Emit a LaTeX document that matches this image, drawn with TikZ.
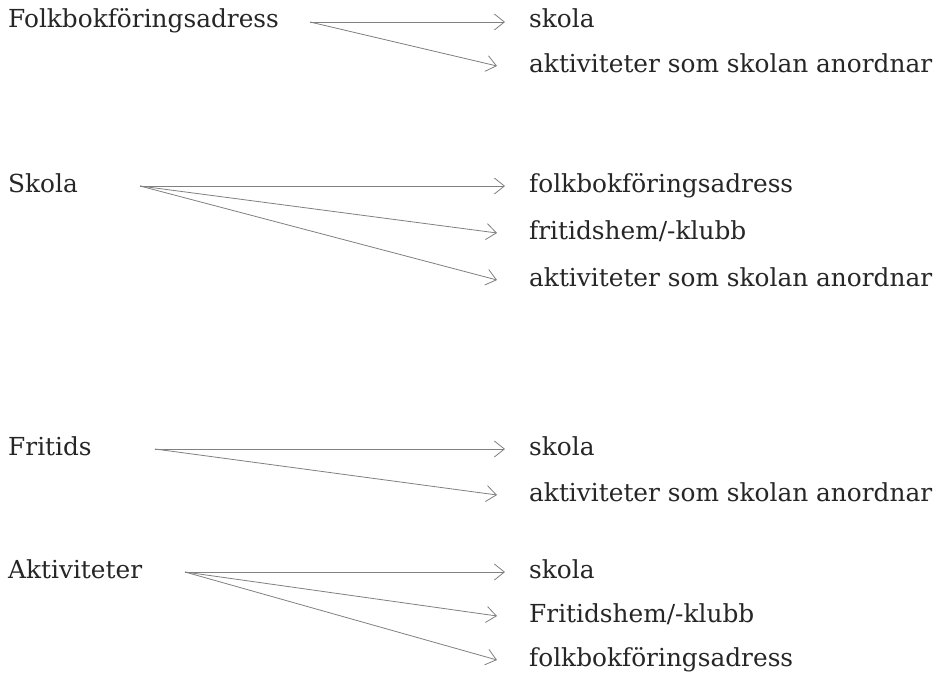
\documentclass[tikz,border=0pt]{standalone}
\usepackage{fontspec}
\setmainfont{DejaVu Serif}
\usetikzlibrary{arrows.meta}
\begin{document}
\begin{tikzpicture}[x=1pt,y=-1pt,
  lbl/.style={anchor=mid west,inner sep=0pt,font=\fontsize{24.8}{28}\selectfont,text=black!85},
  conn/.style={draw=black!50,line width=0.8pt,-{Straight Barb[length=10pt,width=16pt,line width=0.8pt]}}]
\useasboundingbox[fill=white] (0,0) rectangle (937,677);
% row 1
\node[lbl] (f) at (8,25) {Folkbokföringsadress};
\coordinate (fs) at (310,22);
\node[lbl] (f1) at (529,25) {skola};
\node[lbl] (f2) at (529,70) {aktiviteter som skolan anordnar};
\coordinate (f1t) at (505,22);
\coordinate (f2t) at (497,66);
\draw[conn] (fs) -- (f1t);
\draw[conn] (fs) -- (f2t);
% row 2
\node[lbl] (s) at (8,190) {Skola};
\coordinate (ss) at (140,186);
\node[lbl] (s1) at (529,190) {folkbokföringsadress};
\node[lbl] (s2) at (529,237) {fritidshem/-klubb};
\node[lbl] (s3) at (529,284) {aktiviteter som skolan anordnar};
\coordinate (s1t) at (505,186);
\coordinate (s2t) at (497,233);
\coordinate (s3t) at (497,280);
\draw[conn] (ss) -- (s1t);
\draw[conn] (ss) -- (s2t);
\draw[conn] (ss) -- (s3t);
% row 3
\node[lbl] (r) at (8,453) {Fritids};
\coordinate (rs) at (155,449);
\node[lbl] (r1) at (529,453) {skola};
\node[lbl] (r2) at (529,499) {aktiviteter som skolan anordnar};
\coordinate (r1t) at (505,449);
\coordinate (r2t) at (497,495);
\draw[conn] (rs) -- (r1t);
\draw[conn] (rs) -- (r2t);
% row 4
\node[lbl] (a) at (8,576) {Aktiviteter};
\coordinate (as) at (185,572);
\node[lbl] (a1) at (529,576) {skola};
\node[lbl] (a2) at (529,620) {Fritidshem/-klubb};
\node[lbl] (a3) at (529,664) {folkbokföringsadress};
\coordinate (a1t) at (505,572);
\coordinate (a2t) at (497,616);
\coordinate (a3t) at (497,660);
\draw[conn] (as) -- (a1t);
\draw[conn] (as) -- (a2t);
\draw[conn] (as) -- (a3t);
\end{tikzpicture}
\end{document}
